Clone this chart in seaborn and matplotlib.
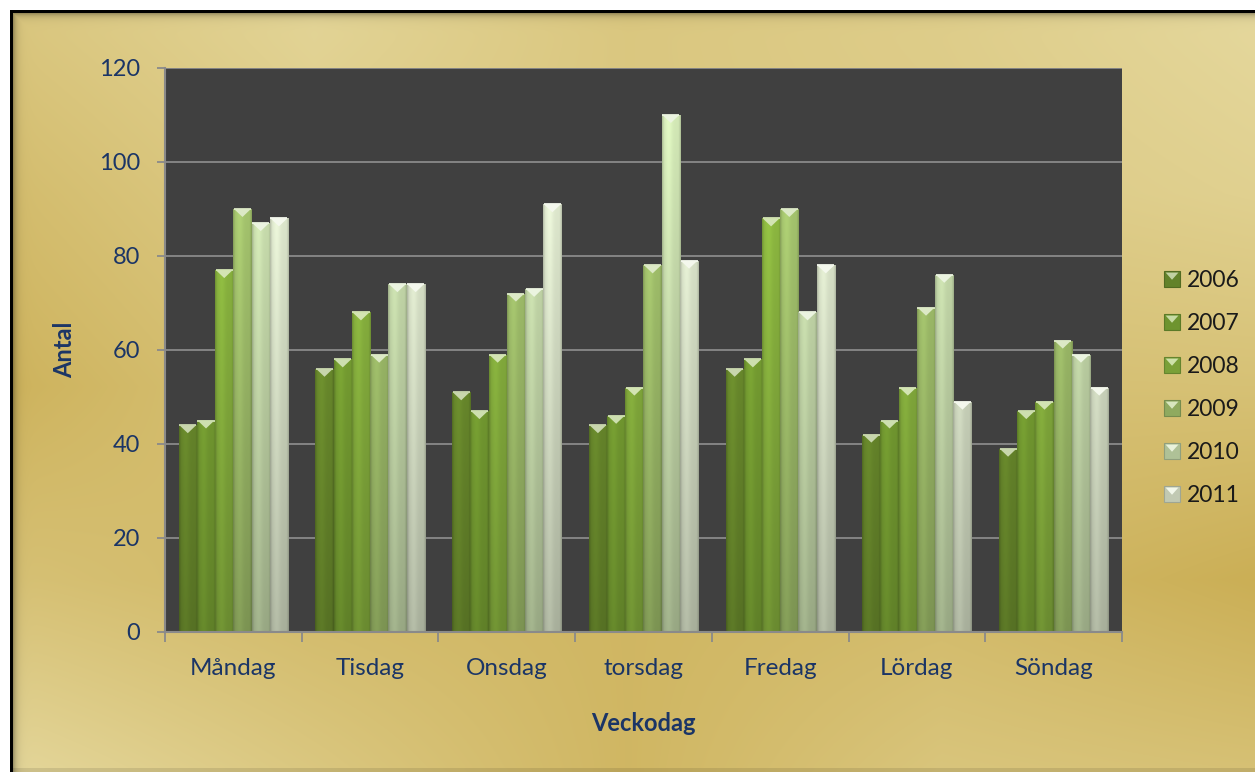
import numpy as np
import pandas as pd
import matplotlib
matplotlib.use("Agg")
import matplotlib.pyplot as plt
import matplotlib.colors as mcolors
from matplotlib.patches import Polygon, Patch
from matplotlib.legend_handler import HandlerPatch
import seaborn as sns

# ---- data -------------------------------------------------------------
days = ["Måndag", "Tisdag", "Onsdag", "torsdag", "Fredag", "Lördag", "Söndag"]
years = ["2006", "2007", "2008", "2009", "2010", "2011"]
antal_2006 = [44, 56, 51, 44, 56, 42, 39]
antal_2007 = [45, 58, 47, 46, 58, 45, 47]
antal_2008 = [77, 68, 59, 52, 88, 52, 49]
antal_2009 = [90, 59, 72, 78, 90, 69, 62]
antal_2010 = [87, 74, 73, 110, 68, 76, 59]
antal_2011 = [88, 74, 91, 79, 78, 49, 52]
y_ticks = [0, 20, 40, 60, 80, 100, 120]

series = [antal_2006, antal_2007, antal_2008, antal_2009, antal_2010, antal_2011]
df = pd.DataFrame({
    "Veckodag": [d for s in series for d in days],
    "År": [y for y, s in zip(years, series) for _ in s],
    "Antal": [v for s in series for v in s],
})

# ---- style ------------------------------------------------------------
sns.set_theme(style="white")
plt.rcParams["font.family"] = ["Lato", "DejaVu Sans"]

bar_colors = ["#759931", "#82ae37", "#90bc42", "#a8c870", "#cee3b2", "#e3edd2"]
navy = "#1b3566"
grey = "#8a8a8a"

W, H = 1255, 772
fig = plt.figure(figsize=(W / 100, H / 100), dpi=100)

# ---- golden backdrop with frame ---------------------------------------
gx = np.linspace(0, W, 5)
gy = np.linspace(0, H, 5)
G = np.array([
    [0.62, 0.88, 0.62, 0.74, 0.95],
    [0.40, 0.72, 0.62, 0.68, 0.80],
    [0.22, 0.55, 0.50, 0.48, 0.50],
    [0.50, 0.35, 0.30, 0.35, 0.15],
    [0.92, 0.62, 0.30, 0.58, 0.50],
])
xs = np.arange(W)
ys = np.arange(H)
rows = np.array([np.interp(xs, gx, r) for r in G])
val = np.array([np.interp(ys, gy, c) for c in rows.T]).T
dark = np.array(mcolors.to_rgb("#c6a748"))
light = np.array(mcolors.to_rgb("#e7dba2"))
img = dark[None, None, :] + (light - dark)[None, None, :] * val[:, :, None]

YY, XX = np.meshgrid(ys, xs, indexing="ij")
# inner shadow along the top and left edges
dist = np.minimum(YY - 13, XX - 13).astype(float)
shade = 1 - 0.3 * np.exp(-np.clip(dist, 0, None) / 3.5)
img = img * shade[:, :, None]
img[H - 4:, :, :] *= 0.9
img[(YY < 10) | (XX < 10)] = 1.0
frame = ((YY >= 10) & (YY < 13) & (XX >= 10)) | ((XX >= 10) & (XX < 13) & (YY >= 10))
img[frame] = 0.0

bg = fig.add_axes([0, 0, 1, 1], zorder=0)
bg.imshow(np.clip(img, 0, 1), aspect="auto", interpolation="bilinear")
bg.set_axis_off()

# ---- plot area --------------------------------------------------------
ax = fig.add_axes([165 / W, 1 - 632 / H, (1122 - 165) / W, (632 - 68) / H], zorder=1)
ax.set_facecolor("#404040")

sns.barplot(data=df, x="Veckodag", y="Antal", hue="År", palette=bar_colors,
            saturation=1, width=0.8, ax=ax, legend=False, linewidth=0,
            zorder=3)

ax.set_ylim(0, 120)
ax.set_xlim(-0.5, len(days) - 0.5)
ax.set_yticks(y_ticks)
ax.yaxis.grid(True, color=grey, linewidth=1.3, zorder=1)
ax.set_axisbelow(True)

# shaded bodies and bevelled caps for each bar
prof_u = np.linspace(0, 1, 40)
f_h = (0.97 + 0.08 * np.exp(-((prof_u - 0.35) / 0.2) ** 2)
       - 0.16 * (np.exp(-(prof_u / 0.07) ** 2) + np.exp(-((1 - prof_u) / 0.07) ** 2)))
prof_v = np.linspace(0, 120, 120)
f_v = np.clip(0.76 + 0.24 * prof_v / 90, 0, 1.06)
cap_h = 8 / 4.7
for patch in list(ax.patches):
    x0, w, h = patch.get_x(), patch.get_width(), patch.get_height()
    if h <= 0:
        continue
    base = np.array(mcolors.to_rgb(patch.get_facecolor()))
    grad = np.clip(base[None, None, :] * f_v[:, None, None] * f_h[None, :, None], 0, 1)
    im = ax.imshow(grad, extent=(x0, x0 + w, 0, 120), origin="lower",
                   aspect="auto", interpolation="bilinear", zorder=3.5)
    im.set_clip_path(patch)
    cap_col = base + (1 - base) * 0.6
    tri = Polygon([(x0 + w * 0.04, h), (x0 + w * 0.96, h), (x0 + w / 2, h - cap_h)],
                  closed=True, facecolor=cap_col, edgecolor="none", zorder=4)
    ax.add_patch(tri)
    ax.plot([x0 + w * 0.03, x0 + w * 0.97], [h, h], color=cap_col, lw=1.3,
            zorder=4, solid_capstyle="butt")
ax.set_ylim(0, 120)
ax.set_xlim(-0.5, len(days) - 0.5)

for side in ["top", "right"]:
    ax.spines[side].set_visible(False)
for side in ["left", "bottom"]:
    ax.spines[side].set_color(grey)
    ax.spines[side].set_linewidth(1.5)
    ax.spines[side].set_zorder(5)

ax.tick_params(axis="y", which="major", left=True, length=6, width=1.3,
               color=grey, labelsize=17, labelcolor=navy, pad=12)
ax.set_xticks(range(len(days)))
ax.set_xticklabels(days)
ax.set_xticks(np.arange(-0.5, len(days)), minor=True)
ax.tick_params(axis="x", which="major", length=0, labelsize=17.5,
               labelcolor=navy, pad=19)
ax.tick_params(axis="x", which="minor", bottom=True, length=7, width=1.3,
               color=grey)

ax.set_xlabel("Veckodag", fontsize=17, fontweight="bold", color=navy)
ax.set_ylabel("Antal", fontsize=17, fontweight="bold", color=navy, va="center")
ax.xaxis.set_label_coords(0.5, -0.142)
ax.yaxis.set_label_coords(-0.1045, 0.5)


# ---- legend -----------------------------------------------------------
class BevelHandler(HandlerPatch):
    def create_artists(self, legend, orig_handle, xdescent, ydescent,
                       width, height, fontsize, trans):
        base = np.array(mcolors.to_rgb(orig_handle.get_facecolor()))
        sq = plt.Rectangle((-xdescent, -ydescent), width, height,
                           facecolor=base * 0.85, edgecolor=base * 0.7,
                           linewidth=0.8, transform=trans)
        cap = Polygon([(-xdescent + width * 0.1, -ydescent + height * 0.9),
                       (-xdescent + width * 0.9, -ydescent + height * 0.9),
                       (-xdescent + width * 0.5, -ydescent + height * 0.45)],
                      closed=True, facecolor=base + (1 - base) * 0.55,
                      edgecolor="none", transform=trans)
        return [sq, cap]


handles = [Patch(facecolor=c, label=y) for c, y in zip(bar_colors, years)]
leg = fig.legend(handles=handles, loc="center left",
                 bbox_to_anchor=(1164 / W, 1 - 388 / H), frameon=False,
                 borderpad=0, borderaxespad=0,
                 fontsize=16.5, handlelength=0.7, handleheight=0.7,
                 handletextpad=0.3, labelspacing=0.96,
                 handler_map={Patch: BevelHandler()})
for t in leg.get_texts():
    t.set_color("#1a1a1a")

fig.savefig("out.png", dpi=100)
